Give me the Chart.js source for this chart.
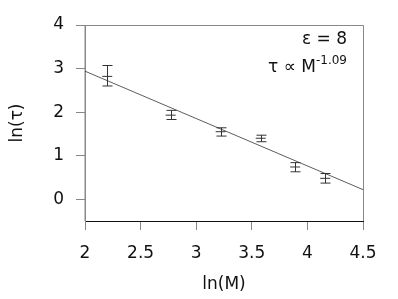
<!DOCTYPE html>
<html>
<head>
<meta charset="utf-8">
<script src="https://cdn.jsdelivr.net/npm/chart.js@4/dist/chart.umd.min.js"></script>
<style>
  html, body { margin: 0; padding: 0; background: #fff; }
  #wrap { width: 398px; height: 299px; }
</style>
</head>
<body>
<div id="wrap"><canvas id="chart" width="398" height="299"></canvas></div>
<script>
// data
const lnM = [2.20, 2.77, 3.22, 3.58, 3.89, 4.16];
const lnTau = [2.82, 1.93, 1.55, 1.40, 0.74, 0.48];
const errUp = [0.25, 0.11, 0.09, 0.07, 0.10, 0.11];
const errDown = [0.22, 0.10, 0.10, 0.08, 0.11, 0.11];

// fitted line, slope -1.09
const fitX = [2, 4.5];
const fitY = [2.94, 0.22];

const xTicks = [2, 2.5, 3, 3.5, 4, 4.5];
const yTicks = [0, 1, 2, 3, 4];

const FONT = "'DejaVu Sans', sans-serif";

// error bars + frame + labels
const extras = {
    id: 'extras',
    beforeDatasetsDraw(chart) {
        const ctx = chart.ctx;
        const xs = chart.scales.x, ys = chart.scales.y;
        const a = chart.chartArea;
        ctx.save();
        ctx.strokeStyle = '#888';
        ctx.lineWidth = 1;
        ctx.beginPath();
        ctx.moveTo(a.left, a.bottom);
        ctx.lineTo(a.left, a.top + 0.5);
        ctx.lineTo(a.right + 0.5, a.top + 0.5);
        ctx.lineTo(a.right + 0.5, a.bottom);
        ctx.stroke();

        ctx.strokeStyle = '#333';
        ctx.lineWidth = 1;
        for (let i = 0; i < lnM.length; i++) {
            const px = Math.round(xs.getPixelForValue(lnM[i])) + 0.5;
            const top = ys.getPixelForValue(lnTau[i] + errUp[i]);
            const bot = ys.getPixelForValue(lnTau[i] - errDown[i]);
            ctx.beginPath();
            ctx.moveTo(px, top); ctx.lineTo(px, bot);
            ctx.moveTo(px - 5, top); ctx.lineTo(px + 5, top);
            ctx.moveTo(px - 5, bot); ctx.lineTo(px + 5, bot);
            ctx.stroke();
        }
        ctx.restore();
    },
    afterDraw(chart) {
        const ctx = chart.ctx;
        const a = chart.chartArea;
        const rx = a.right - 16;
        ctx.save();
        ctx.fillStyle = '#111';
        ctx.textAlign = 'right';
        ctx.textBaseline = 'alphabetic';
        ctx.font = '17px ' + FONT;
        ctx.fillText('ε = 8', rx, 44);
        ctx.font = '12px ' + FONT;
        const sup = '-1.09';
        const supW = ctx.measureText(sup).width;
        ctx.fillText(sup, rx, 64);
        ctx.font = '17px ' + FONT;
        ctx.fillText('τ ∝ M', rx - supW, 72);
        ctx.restore();
    }
};

new Chart(document.getElementById('chart'), {
    type: 'scatter',
    data: {
        datasets: [{
            label: 'data',
            data: lnM.map((x, i) => ({ x: x, y: lnTau[i] })),
            pointStyle: 'line',
            radius: 5,
            borderColor: '#333',
            borderWidth: 1,
            showLine: false
        }, {
            label: 'fit',
            data: fitX.map((x, i) => ({ x: x, y: fitY[i] })),
            showLine: true,
            pointRadius: 0,
            borderColor: '#333',
            borderWidth: 0.8
        }]
    },
    options: {
        responsive: false,
        animation: false,
        layout: { padding: { top: 25, right: 35, left: 0, bottom: 0 } },
        plugins: { legend: { display: false }, tooltip: { enabled: false } },
        scales: {
            x: {
                type: 'linear', min: 2, max: 4.5,
                afterBuildTicks: s => { s.ticks = xTicks.map(v => ({ value: v })); },
                afterFit: s => { s.height = 78; },
                grid: { drawOnChartArea: false, drawTicks: true, tickLength: 9, color: '#888' },
                border: { color: '#111', width: 1 },
                ticks: { color: '#111', font: { family: FONT, size: 17 }, padding: 13, maxRotation: 0,
                         callback: v => String(v) },
                title: { display: true, text: 'ln(M)', color: '#111', font: { family: FONT, size: 17 }, padding: { top: 4, bottom: 4 } }
            },
            y: {
                type: 'linear', min: -0.5, max: 4,
                afterBuildTicks: s => { s.ticks = yTicks.map(v => ({ value: v })); },
                afterFit: s => { s.width = 85; },
                grid: { drawOnChartArea: false, drawTicks: true, tickLength: 9, color: '#888' },
                border: { color: '#888', width: 1 },
                ticks: { color: '#111', font: { family: FONT, size: 17 }, padding: 12,
                         callback: v => String(v) },
                title: { display: true, text: 'ln(τ)', color: '#111', font: { family: FONT, size: 17 }, padding: { top: 7, bottom: 4 } }
            }
        }
    },
    plugins: [extras]
});
</script>
</body>
</html>
